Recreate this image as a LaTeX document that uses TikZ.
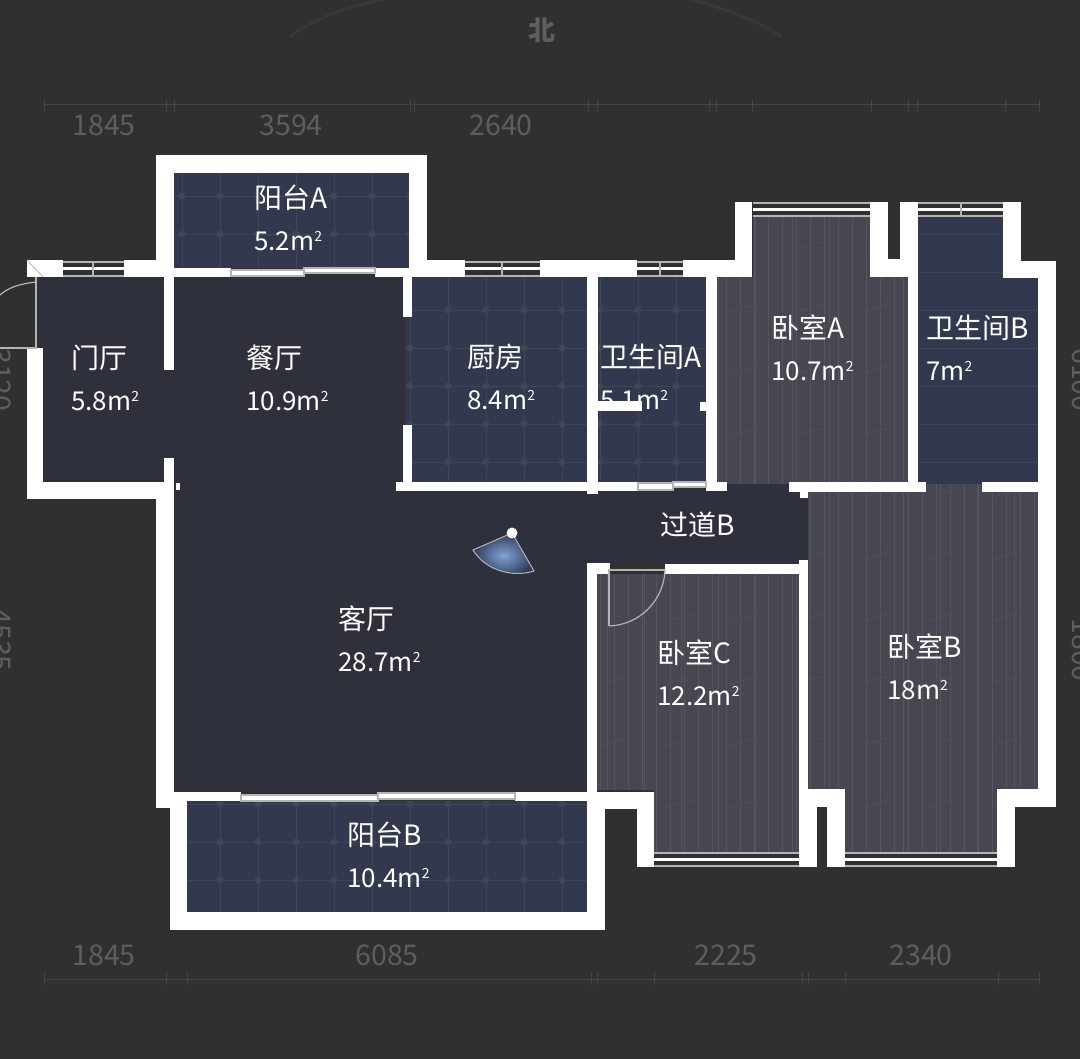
\documentclass[tikz,border=0pt]{standalone}
\usepackage{fontspec}
\setmainfont{Noto Sans CJK SC}
\definecolor{PlanBack}{HTML}{303030}
\definecolor{RingGrey}{HTML}{38383B}
\definecolor{FloorDark}{HTML}{2E303B}
\definecolor{TileBlue}{HTML}{32384D}
\definecolor{TileLine}{HTML}{40465A}
\definecolor{WoodGrey}{HTML}{474752}
\definecolor{WoodLine}{HTML}{54545F}
\definecolor{DimGrey}{HTML}{5E5E5E}
\definecolor{TickGrey}{HTML}{444444}
\definecolor{GlassGrey}{HTML}{B4B4B4}
\definecolor{FanBlue}{HTML}{7FA4D6}
\definecolor{FanDark}{HTML}{2F3A58}
\newcommand{\area}[1]{{\fontsize{26}{42}\selectfont #1m\raisebox{9pt}{\fontsize{14}{14}\selectfont 2}}}
\tikzset{
  roomlabel/.style={text=white,anchor=west,align=left,inner sep=0pt,
    font=\fontsize{28}{42}\selectfont},
  dimlabel/.style={text=DimGrey,inner sep=0pt,font=\fontsize{28.5}{28.5}\selectfont},
  wall/.style={fill=white},
  glasspanel/.style={fill=white,draw=GlassGrey,line width=1.2pt},
  doorline/.style={draw=GlassGrey,line width=1.6pt},
}
\begin{document}
\begin{tikzpicture}[x=1pt,y=-1pt]
  \useasboundingbox (0,0) rectangle (1080,1059);
  \fill[PlanBack] (0,0) rectangle (1080,1059);
  % faint compass ring
  \draw[RingGrey,line width=3pt]
    (290,37) .. controls (310,20) and (350,5) .. (390,-2);
  \draw[RingGrey,line width=3pt]
    (688,-2) .. controls (720,8) and (760,20) .. (781,37);
  \node[dimlabel,font=\fontsize{27}{27}\selectfont\bfseries] (north) at (542,30) {北};
  % dimension lines
  \draw[TickGrey,line width=1pt] (44,105) -- (1039,105);
  \foreach \x in {44,166,174,410,414,588,597,709,716,752,871,908,917,1005,1039}
    \draw[TickGrey,line width=1pt] (\x,99) -- (\x,112);
  \draw[TickGrey,line width=1pt] (44,979) -- (1039,979);
  \foreach \x in {44,166,187,591,597,654,802,808,845,998,1039}
    \draw[TickGrey,line width=1pt] (\x,972) -- (\x,985);
  \node[dimlabel] (topa) at (104,125) {1845};
  \node[dimlabel] (topb) at (291,125) {3594};
  \node[dimlabel] (topc) at (501,125) {2640};
  \node[dimlabel] (bota) at (104,955) {1845};
  \node[dimlabel] (botb) at (387,955) {6085};
  \node[dimlabel] (botc) at (726,955) {2225};
  \node[dimlabel] (botd) at (921,955) {2340};
  \node[dimlabel,rotate=-90] (lefta) at (1,380) {3120};
  \node[dimlabel,rotate=-90] (leftb) at (1,640) {4535};
  \node[dimlabel,rotate=-90] (righta) at (1083,380) {6100};
  \node[dimlabel,rotate=-90] (rightb) at (1083,650) {1800};
  % floors
  \foreach \xa/\ya/\xb/\yb in {37/277/174/482,174/277/412/792,412/484/598/792,598/484/808/564}
    \fill[FloorDark] (\xa,\ya) rectangle (\xb,\yb);
  % tiled rooms
  \begin{scope}
    \clip (174,173) rectangle (409,268)
          (405,277) rectangle (587,482)
          (598,277) rectangle (706,482)
          (187,801) rectangle (587,912)
          (918,216) -- (1003,216) -- (1003,278) -- (1038,278) -- (1038,484) -- (918,484) -- cycle;
    \fill[TileBlue] (170,170) rectangle (1040,915);
    \foreach \k in {0,...,21}
      \draw[TileLine,line width=.6pt] (30+38*\k,170) -- (30+38*\k,915);
    \foreach \k in {0,...,20}
      \draw[TileLine,line width=.6pt] (170,158+38*\k) -- (1040,158+38*\k);
    \foreach \k in {0,...,21}
      \foreach \j in {0,...,20}
        \fill[TileLine] (30+38*\k,158+38*\j) circle (3.5);
  \end{scope}
  % wooden rooms
  \begin{scope}
    \clip (717,277) -- (753,277) -- (753,216) -- (870,216) -- (870,277) -- (908,277) -- (908,484) -- (717,484) -- cycle
          (597,574) -- (800,574) -- (800,852) -- (654,852) -- (654,790) -- (597,790) -- cycle
          (808,490) -- (926,490) -- (926,484) -- (982,484) -- (982,490) -- (1038,490) -- (1038,789)
            -- (997,789) -- (997,852) -- (845,852) -- (845,789) -- (808,789) -- cycle;
    \fill[WoodGrey] (590,210) rectangle (1040,860);
    \foreach \x in {600,614,...,1040}
      \draw[WoodLine,line width=.4pt] (\x,210) -- (\x,860);
    \foreach \x in {607,644,...,1040}
      \draw[WoodLine,line width=.6pt] (\x,210) -- (\x,860);
    \foreach \x in {600,665,...,1040}
      \foreach \y in {250,312,...,860}
        \draw[WoodLine,line width=.6pt] (\x,\y) -- (\x+28,\y-8);
  \end{scope}
  % room names
  \node[roomlabel] (balconya) at (254,218) {阳台A\\\area{5.2}};
  \node[roomlabel] (hall) at (71,378) {门厅\\\area{5.8}};
  \node[roomlabel] (dining) at (246,378) {餐厅\\\area{10.9}};
  \node[roomlabel] (kitchen) at (467,377) {厨房\\\area{8.4}};
  \node[roomlabel] (batha) at (600,377) {卫生间A\\\area{5.1}};
  \node[roomlabel] (bedrooma) at (771,348) {卧室A\\\area{10.7}};
  \node[roomlabel] (bathb) at (926,348) {卫生间B\\\area{7}};
  \node[roomlabel] (corridor) at (660,525) {过道B};
  \node[roomlabel] (living) at (338,639) {客厅\\\area{28.7}};
  \node[roomlabel] (bedroomc) at (657,673) {卧室C\\\area{12.2}};
  \node[roomlabel] (bedroomb) at (887,667) {卧室B\\\area{18}};
  \node[roomlabel] (balconyb) at (347,855) {阳台B\\\area{10.4}};
  % walls
  \foreach \xa/\ya/\xb/\yb in {156/155/427/173,156/155/174/277,409/155/427/277,174/268/231/277,375/268/409/277,
      27/260/63/277,124/260/174/277,427/260/465/277,540/260/637/277,683/260/752/277,735/202/752/277,
      870/202/888/277,900/202/918/277,870/259/918/277,1003/202/1021/278,1003/261/1056/278,908/277/918/492,
      1038/261/1056/807,997/789/1056/807,997/789/1015/867,808/789/845/807,827/789/845/867,
      799/560/808/807,799/789/817/867,789/482/926/492,982/482/1038/492,800/492/808/498,
      27/348/43/499,27/482/174/499,156/482/174/808,164/277/174/370,164/458/174/490,176/483/180/490,
      156/792/187/808,170/792/187/930,170/912/605/930,587/792/605/930,174/792/241/801,515/792/587/801,
      587/792/654/809,637/792/654/867,403/277/412/317,403/425/412/491,396/482/638/491,587/277/598/494,
      706/277/717/491,706/482/727/491,598/401/642/411,700/402/706/411,587/563/597/792,587/563/610/574,
      665/564/808/574}
    \fill[wall] (\xa,\ya) rectangle (\xb,\yb);
  % windows
  \foreach \xa/\xb/\ya/\yb in {63/124/262/276,465/540/262/276,637/683/262/276,753/870/203/216,918/1003/203/216,
      654/799/853/866,845/997/853/866} {
    \draw[GlassGrey,line width=2pt] (\xa,\ya) -- (\xb,\ya) (\xa,\yb) -- (\xb,\yb);
    \draw[white,line width=3pt] (\xa,{(\ya+\yb)/2}) -- (\xb,{(\ya+\yb)/2});
  }
  \foreach \x/\ya/\yb in {93/262/276,502/262/276,660/262/276,961/203/216}
    \draw[GlassGrey,line width=1.2pt] (\x,\ya) -- (\x,\yb);
  % sliding doors
  \foreach \xa/\ya/\xb/\yb in {231/270/304/276,304/268/375/273,638/483/673/490,673/482/706/487,
      241/795/378/801,378/793/515/799}
    \filldraw[glasspanel] (\xa,\ya) rectangle (\xb,\yb);
  % swing doors
  \draw[doorline] (36,277) -- (36,348) -- (0,348);
  \draw[doorline,line width=1.2pt] (36,282) .. controls (18,284) and (8,288) .. (0,295);
  \draw[GlassGrey,line width=.8pt] (27,260) -- (43,277);
  \draw[doorline] (665,570) -- (609,570) -- (609,626);
  \draw[doorline,line width=1.2pt] (609,626) .. controls (640,625) and (664,600) .. (665,570);
  % view marker
  \draw[GlassGrey,line width=1pt,inner color=FanBlue,outer color=FanDark]
    (512,533) -- (473,550) .. controls (485,570) and (512,578) .. (534,571) -- cycle;
  \fill[white] (512,533) circle (5.5);
\end{tikzpicture}
\end{document}
